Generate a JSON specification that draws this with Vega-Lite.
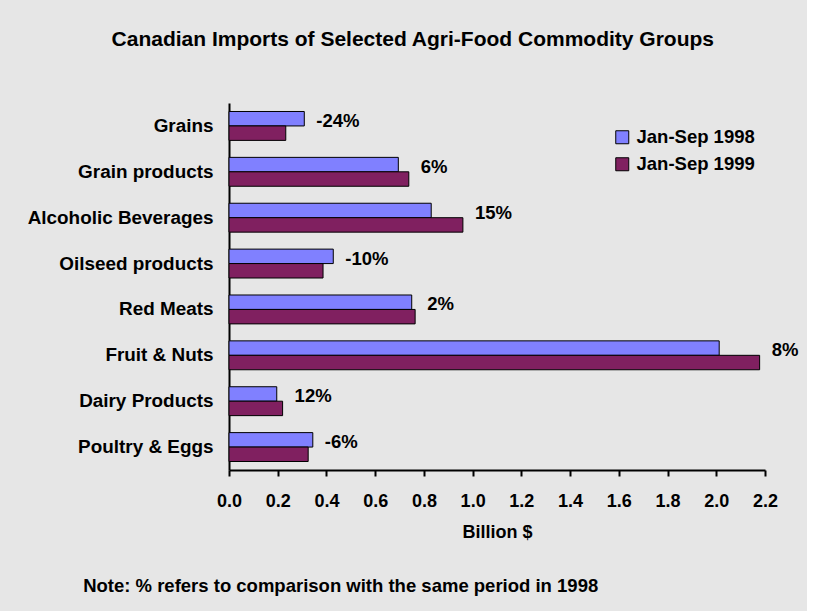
{
  "$schema": "https://vega.github.io/schema/vega-lite/v6.json",
  "background": "#e6e6e6",
  "padding": {"left": 27, "top": 29, "right": 8, "bottom": 15},
  "title": {
    "text": "Canadian Imports of Selected Agri-Food Commodity Groups",
    "fontSize": 21,
    "font": "Liberation Sans",
    "fontWeight": "bold",
    "color": "#000000",
    "anchor": "middle",
    "frame": "bounds",
    "offset": 53
  },
  "data": {
    "values": [
      {"category": "Grains", "period": "Jan-Sep 1998", "value": 0.309, "pct": "-24%"},
      {"category": "Grains", "period": "Jan-Sep 1999", "value": 0.233, "pct": "-24%"},
      {"category": "Grain products", "period": "Jan-Sep 1998", "value": 0.695, "pct": "6%"},
      {"category": "Grain products", "period": "Jan-Sep 1999", "value": 0.738, "pct": "6%"},
      {"category": "Alcoholic Beverages", "period": "Jan-Sep 1998", "value": 0.830, "pct": "15%"},
      {"category": "Alcoholic Beverages", "period": "Jan-Sep 1999", "value": 0.960, "pct": "15%"},
      {"category": "Oilseed products", "period": "Jan-Sep 1998", "value": 0.428, "pct": "-10%"},
      {"category": "Oilseed products", "period": "Jan-Sep 1999", "value": 0.386, "pct": "-10%"},
      {"category": "Red Meats", "period": "Jan-Sep 1998", "value": 0.750, "pct": "2%"},
      {"category": "Red Meats", "period": "Jan-Sep 1999", "value": 0.764, "pct": "2%"},
      {"category": "Fruit & Nuts", "period": "Jan-Sep 1998", "value": 2.012, "pct": "8%"},
      {"category": "Fruit & Nuts", "period": "Jan-Sep 1999", "value": 2.178, "pct": "8%"},
      {"category": "Dairy Products", "period": "Jan-Sep 1998", "value": 0.196, "pct": "12%"},
      {"category": "Dairy Products", "period": "Jan-Sep 1999", "value": 0.220, "pct": "12%"},
      {"category": "Poultry & Eggs", "period": "Jan-Sep 1998", "value": 0.344, "pct": "-6%"},
      {"category": "Poultry & Eggs", "period": "Jan-Sep 1999", "value": 0.325, "pct": "-6%"}
    ]
  },
  "vconcat": [
    {
      "width": 536,
      "height": 367,
      "title": {
        "text": "Note: % refers to comparison with the same period in 1998",
        "orient": "bottom",
        "anchor": "start",
        "frame": "bounds",
        "dx": 56,
        "fontSize": 18.5,
        "fontWeight": "bold",
        "font": "Liberation Sans",
        "color": "#000000",
        "offset": 36
      },
      "layer": [
        {
          "mark": {"type": "bar", "stroke": "#000000", "strokeWidth": 1},
          "encoding": {
            "y": {
              "field": "category",
              "type": "nominal",
              "sort": ["Grains", "Grain products", "Alcoholic Beverages", "Oilseed products", "Red Meats", "Fruit & Nuts", "Dairy Products", "Poultry & Eggs"],
              "scale": {"paddingInner": 0.37, "paddingOuter": 0.185},
              "axis": {
                "title": null,
                "domain": true,
                "domainColor": "#000000",
                "domainWidth": 2,
                "ticks": false,
                "labelFontSize": 18.9,
                "labelFontWeight": "bold",
                "labelFont": "Liberation Sans",
                "labelColor": "#000000",
                "labelPadding": 16,
                "labelLimit": 400
              }
            },
            "yOffset": {
              "field": "period",
              "type": "nominal",
              "scale": {"paddingInner": 0, "paddingOuter": 0}
            },
            "x": {
              "field": "value",
              "type": "quantitative",
              "scale": {"domain": [0, 2.2], "nice": false},
              "axis": {
                "title": "Billion $",
                "values": [0, 0.2, 0.4, 0.6, 0.8, 1.0, 1.2, 1.4, 1.6, 1.8, 2.0, 2.2],
                "format": ".1f",
                "grid": false,
                "domainColor": "#000000",
                "domainWidth": 2,
                "tickColor": "#000000",
                "tickWidth": 2,
                "tickSize": 6,
                "labelFontSize": 18,
                "labelFontWeight": "bold",
                "labelFont": "Liberation Sans",
                "labelColor": "#000000",
                "labelPadding": 16,
                "labelOverlap": false,
                "labelFlush": false,
                "titleFontSize": 18,
                "titleFontWeight": "bold",
                "titleFont": "Liberation Sans",
                "titleColor": "#000000",
                "titlePadding": 13
              }
            },
            "color": {
              "field": "period",
              "type": "nominal",
              "scale": {"domain": ["Jan-Sep 1998", "Jan-Sep 1999"], "range": ["#8080ff", "#802060"]},
              "legend": {
                "title": null,
                "orient": "none",
                "legendX": 384,
                "legendY": 25,
                "symbolType": "square",
                "symbolSize": 169,
                "symbolStrokeColor": "#000000",
                "symbolStrokeWidth": 1,
                "symbolOpacity": 1,
                "labelFontSize": 18.5,
                "labelFontWeight": "bold",
                "labelFont": "Liberation Sans",
                "labelColor": "#000000",
                "labelOffset": 5,
                "rowPadding": 8
              }
            }
          }
        },
        {
          "transform": [
            {"aggregate": [{"op": "max", "field": "value", "as": "maxv"}], "groupby": ["category", "pct"]}
          ],
          "mark": {"type": "text", "align": "left", "baseline": "middle", "dx": 12, "dy": -5, "fontSize": 18.5, "fontWeight": "bold", "font": "Liberation Sans", "color": "#000000"},
          "encoding": {
            "y": {
              "field": "category",
              "type": "nominal",
              "sort": ["Grains", "Grain products", "Alcoholic Beverages", "Oilseed products", "Red Meats", "Fruit & Nuts", "Dairy Products", "Poultry & Eggs"]
            },
            "x": {"field": "maxv", "type": "quantitative"},
            "text": {"field": "pct"}
          }
        }
      ]
    }
  ],
  "config": {
    "view": {"stroke": null},
    "font": "Liberation Sans"
  }
}
